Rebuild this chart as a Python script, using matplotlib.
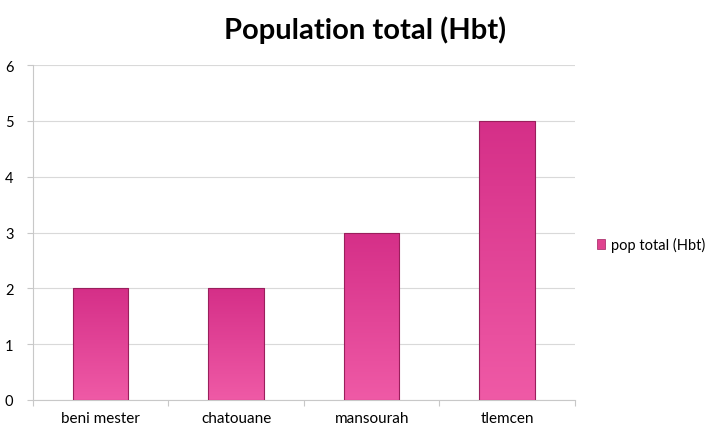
import matplotlib
matplotlib.use("Agg")
import matplotlib.pyplot as plt
import numpy as np
from matplotlib.colors import LinearSegmentedColormap
from matplotlib.patches import Rectangle

categories = ["beni mester", "chatouane", "mansourah", "tlemcen"]
values = [2, 2, 3, 5]
series_name = "pop total (Hbt)"
title = "Population total (Hbt)"
yticks = [0, 1, 2, 3, 4, 5, 6]

plt.rcParams['font.family'] = ['Lato', 'DejaVu Sans']

fig = plt.figure(figsize=(7.16, 4.27), dpi=100)
ax = fig.add_axes([0.046, 0.061, 0.757, 0.784])

x = np.arange(len(categories))
bars = ax.bar(x, values, width=0.41, color="#e0428f", edgecolor="#a02060",
              linewidth=0.6, zorder=3, label=series_name)

cmap = LinearSegmentedColormap.from_list("pinkgrad", ["#ef5aa6", "#d52f88"])
grad = np.linspace(0, 1, 256).reshape(-1, 1)
for b in bars:
    bx, by = b.get_x(), b.get_y()
    w, h = b.get_width(), b.get_height()
    im = ax.imshow(grad, cmap=cmap, origin="lower", aspect="auto",
                   extent=[bx, bx + w, by, by + h], zorder=3.5)
    im.set_clip_path(b)
    ax.add_patch(Rectangle((bx, by), w, h, fill=False, edgecolor="#9a1f5c",
                           linewidth=0.8, zorder=4))

ax.set_xlim(-0.5, len(categories) - 0.5)
ax.set_ylim(0, 6)
ax.set_yticks(yticks)
ax.set_xticks(x)
ax.set_xticklabels(categories, fontsize=11)
ax.set_xticks(np.arange(-0.5, len(categories)), minor=True)
ax.tick_params(axis="x", which="major", length=0, pad=8, colors="#000000")
ax.tick_params(axis="x", which="minor", length=4, color="#c8c8c8", width=0.8)
ax.tick_params(axis="y", length=4, color="#c8c8c8", width=0.8, pad=10, labelsize=10.5)
ax.yaxis.grid(True, color="#d9d9d9", linewidth=0.8, zorder=0)
for s in ["top", "right"]:
    ax.spines[s].set_visible(False)
ax.spines["left"].set_color("#c8c8c8")
ax.spines["bottom"].set_color("#c8c8c8")

fig.text(0.51, 0.93, title, ha="center", va="center", fontsize=21, fontweight="bold")

leg = fig.legend(handles=[Rectangle((0, 0), 1, 1, facecolor="#e0428f", edgecolor="#a02060", linewidth=0.5)],
                 labels=[series_name], loc="center left", bbox_to_anchor=(0.82, 0.425),
                 frameon=False, fontsize=10.5, handlelength=0.55, handleheight=0.6,
                 handletextpad=0.4, borderpad=0.2)

fig.savefig("out.png", dpi=100)
